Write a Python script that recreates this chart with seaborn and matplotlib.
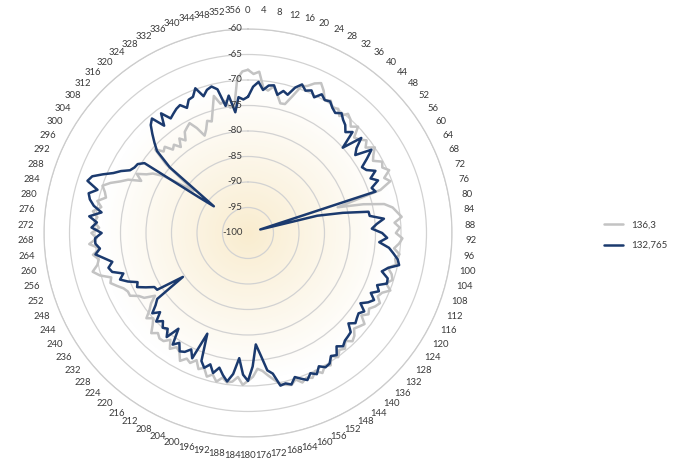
import numpy as np
import pandas as pd
import matplotlib
matplotlib.use("Agg")
import matplotlib.pyplot as plt
from matplotlib.transforms import offset_copy
import seaborn as sns

# Bearing of each sample, degrees clockwise from north
angles = list(range(0, 360, 2))

series_grey_name = "136,3"
series_blue_name = "132,765"

# Received level (dBm) per bearing
series_grey = [
    -68.0, -68.8, -68.3, -71.3, -71.8, -70.8, -72.3, -73.8, -73.7, -71.8,
    -69.4, -68.9, -67.9, -67.3, -68.4, -69.9, -69.4, -70.4, -69.9, -70.9,
    -69.5, -70.0, -71.0, -70.0, -72.0, -71.5, -70.5, -71.5, -70.0, -71.0,
    -71.7, -70.2, -70.7, -69.7, -71.2, -70.3, -72.7, -81.7, -76.7, -72.7,
    -71.2, -70.5, -69.7, -71.2, -70.2, -71.0, -69.7, -70.3, -71.2, -70.0,
    -70.7, -70.3, -71.7, -70.7, -70.2, -71.2, -69.9, -71.2, -71.7, -70.7,
    -71.2, -72.0, -71.5, -72.5, -71.0, -71.5, -72.0, -71.0, -70.5, -71.5,
    -70.4, -70.9, -69.9, -70.9, -69.4, -69.9, -68.9, -69.9, -68.9, -69.4,
    -68.8, -69.8, -69.0, -69.3, -69.8, -70.8, -71.8, -72.8, -73.3, -71.8,
    -71.0, -70.2, -71.7, -70.7, -70.4, -71.2, -70.2, -71.4, -70.7, -72.2,
    -71.6, -73.1, -72.1, -72.6, -71.6, -73.1, -73.6, -72.6, -74.1, -73.1,
    -73.0, -73.6, -72.7, -74.0, -75.0, -74.0, -75.5, -76.5, -78.0, -76.0,
    -75.3, -73.8, -73.8, -73.3, -72.3, -71.3, -71.8, -69.8, -68.6, -69.8,
    -70.3, -69.3, -70.8, -68.8, -70.3, -69.3, -70.8, -69.8, -70.3, -69.3,
    -70.8, -69.8, -71.3, -70.8, -70.0, -71.3, -73.0, -74.3, -76.7, -75.3,
    -77.0, -78.0, -80.0, -84.0, -86.5, -79.0, -75.5, -77.0, -76.5, -78.0,
    -77.4, -78.6, -77.1, -78.1, -76.6, -76.1, -75.6, -77.1, -79.1, -78.1,
    -76.6, -77.0, -74.9, -72.3, -74.1, -73.7, -75.2, -74.7, -69.7, -68.3,
]

series_blue = [
    -73.3, -71.3, -70.3, -71.8, -70.8, -70.6, -72.3, -71.3, -71.8, -70.0,
    -69.0, -69.9, -69.4, -70.4, -69.2, -69.9, -69.6, -70.4, -70.9, -70.2,
    -71.0, -71.5, -72.5, -71.5, -75.0, -71.0, -73.0, -74.0, -70.8, -72.5,
    -74.2, -73.7, -72.2, -73.7, -72.5, -74.2, -73.7, -97.5, -86.0, -81.0,
    -76.0, -75.9, -73.2, -74.7, -75.7, -73.7, -72.7, -74.2, -72.2, -71.2,
    -70.2, -69.7, -71.7, -72.7, -71.2, -71.0, -72.7, -71.9, -73.2, -72.0,
    -72.8, -74.0, -72.5, -73.2, -72.9, -72.5, -73.5, -72.0, -71.8, -71.6,
    -71.0, -71.8, -70.4, -70.9, -69.8, -69.6, -70.4, -69.2, -69.9, -68.9,
    -69.6, -70.3, -69.1, -69.6, -69.4, -72.0, -72.8, -75.8, -78.1, -73.8,
    -71.0, -72.2, -75.4, -72.2, -70.6, -71.7, -73.0, -71.7, -73.2, -72.2,
    -73.3, -78.7, -73.1, -74.6, -73.6, -73.2, -74.6, -73.6, -76.8, -74.1,
    -75.5, -75.0, -76.0, -75.0, -76.8, -75.5, -77.0, -78.0, -84.6, -79.0,
    -78.8, -77.3, -75.8, -76.3, -74.6, -73.3, -74.3, -72.3, -71.8, -72.8,
    -71.4, -69.8, -70.8, -70.0, -70.0, -71.3, -69.3, -70.3, -68.7, -71.0,
    -69.3, -68.3, -67.8, -69.3, -66.9, -67.5, -69.3, -71.1, -72.3, -73.8,
    -74.3, -74.5, -75.5, -88.0, -91.5, -80.0, -76.0, -74.5, -73.0, -71.5,
    -70.7, -73.3, -71.0, -72.9, -72.4, -71.9, -71.6, -72.7, -71.4, -71.2,
    -69.8, -71.8, -70.8, -70.4, -71.2, -74.7, -72.8, -76.2, -73.3, -73.8,
]

angle_labels = list(range(0, 360, 4))
radial_ticks = [-100, -95, -90, -85, -80, -75, -70, -65, -60]

palette = {series_grey_name: "#c3c3c3", series_blue_name: "#1b3a6e"}

# Long-form table; each trace is closed by repeating its first sample at 360 degrees
rows = []
for name, vals in [(series_grey_name, series_grey), (series_blue_name, series_blue)]:
    for a, v in zip(angles + [360], vals + [vals[0]]):
        rows.append({"theta": np.deg2rad(a), "level": v, "series": name})
df = pd.DataFrame(rows)

sns.set_theme(style="white")
plt.rcParams["font.family"] = ["Lato", "DejaVu Sans"]

fig = plt.figure(figsize=(6.8, 4.61), dpi=100)
fig.patch.set_facecolor("white")
rect = [0.0647, 0.0521, 0.6, 0.885]

# Soft warm glow behind the plot area
bg = fig.add_axes(rect, zorder=0)
n = 400
yy, xx = np.mgrid[-1:1:n * 1j, -1:1:n * 1j]
rr = np.hypot(xx, yy)
t = np.clip(rr / 0.72, 0, 1) ** 0.9
core = np.array([249, 236, 206]) / 255.0
img = core[None, None, :] + (1 - core[None, None, :]) * t[..., None]
bg.imshow(img, extent=[-1, 1, -1, 1], origin="lower", interpolation="bilinear")
bg.set_xlim(-1, 1)
bg.set_ylim(-1, 1)
bg.set_axis_off()

ax = fig.add_axes(rect, projection="polar", zorder=1)
ax.set_facecolor("none")
ax.set_theta_zero_location("N")
ax.set_theta_direction(-1)

sns.lineplot(
    data=df, x="theta", y="level", hue="series",
    hue_order=[series_grey_name, series_blue_name],
    palette=palette, sort=False, estimator=None,
    linewidth=1.8, ax=ax,
)

ax.set_ylim(-100, -60)
ax.set_yticks(radial_ticks)
ax.set_yticklabels([])
ax.set_xticks(np.deg2rad(angle_labels))
ax.set_xticklabels([str(a) for a in angle_labels])
ax.tick_params(axis="x", pad=0.5, labelsize=6.8, colors="#3a3a3a")
ax.xaxis.grid(False)
ax.yaxis.grid(True, color="#d2d2d2", linewidth=0.9)
ax.spines["polar"].set_color("#cccccc")
ax.spines["polar"].set_linewidth(0.9)
ax.set_xlabel("")
ax.set_ylabel("")

# Radial scale labels just left of the vertical axis
lab_tr = offset_copy(ax.transData, fig=fig, x=-4, y=0, units="points")
for v in radial_ticks:
    ax.text(0, v, f"{v}", transform=lab_tr, ha="right", va="center",
            fontsize=7, color="#3a3a3a")

sns.move_legend(
    ax, loc="center left", bbox_to_anchor=(0.875, 0.49),
    bbox_transform=fig.transFigure, title=None, frameon=False,
    fontsize=7, handlelength=2.0, labelspacing=1.2,
)
for txt in ax.get_legend().get_texts():
    txt.set_color("#3a3a3a")

fig.savefig("out.png", dpi=100, facecolor="white")
